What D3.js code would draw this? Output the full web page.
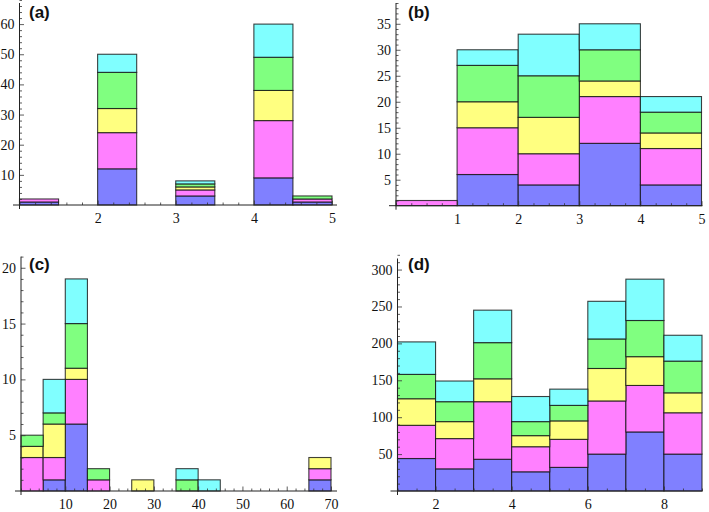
<!DOCTYPE html>
<html><head><meta charset="utf-8">
<script src="https://cdn.jsdelivr.net/npm/d3@7"></script>
<style>body{margin:0;background:#fff}svg{display:block}
svg text.tl{font-family:"Liberation Serif",Times,"DejaVu Serif",serif;font-size:14px}</style>
</head><body><svg id="chart" width="709" height="512"></svg>
<script>
// ---- data ----
const seriesKeys = ["blue", "magenta", "yellow", "green", "cyan"];
const seriesColors = ["#8080ff", "#ff80ff", "#ffff80", "#80ff80", "#80ffff"];

// (a)
const aBinStart = [1, 2, 3, 4, 4.5];
const aBinWidth = 0.5;
const aBlue    = [1, 12, 3, 9, 1];
const aMagenta = [1, 12, 2, 19, 1];
const aYellow  = [0, 8, 1, 10, 0];
const aGreen   = [0, 12, 1, 11, 1];
const aCyan    = [0, 6, 1, 11, 0];
const aXTicks = [2, 3, 4, 5];
const aYTicks = [10, 20, 30, 40, 50, 60];

// (b)
const bBinStart = [0, 1, 2, 3, 4];
const bBinWidth = 1;
const bBlue    = [0, 6, 4, 12, 4];
const bMagenta = [1, 9, 6, 9, 7];
const bYellow  = [0, 5, 7, 3, 3];
const bGreen   = [0, 7, 8, 6, 4];
const bCyan    = [0, 3, 8, 5, 3];
const bXTicks = [1, 2, 3, 4, 5];
const bYTicks = [5, 10, 15, 20, 25, 30, 35];

// (c)
const cBinStart = [0, 5, 10, 15, 25, 35, 40, 65];
const cBinWidth = 5;
const cBlue    = [0, 1, 6, 0, 0, 0, 0, 1];
const cMagenta = [3, 2, 4, 1, 0, 0, 0, 1];
const cYellow  = [1, 3, 1, 0, 1, 0, 0, 1];
const cGreen   = [1, 1, 4, 1, 0, 1, 0, 0];
const cCyan    = [0, 3, 4, 0, 0, 1, 1, 0];
const cXTicks = [10, 20, 30, 40, 50, 60, 70];
const cYTicks = [5, 10, 15, 20];

// (d)
const dBinStart = [1, 2, 3, 4, 5, 6, 7, 8];
const dBinWidth = 1;
const dBlue    = [44, 30, 43, 26, 32, 50, 80, 50];
const dMagenta = [45, 41, 78, 34, 38, 72, 63, 56];
const dYellow  = [36, 23, 31, 15, 25, 44, 39, 27];
const dGreen   = [33, 27, 49, 19, 21, 40, 49, 43];
const dCyan    = [44, 28, 44, 34, 22, 51, 56, 35];
const dXTicks = [2, 4, 6, 8];
const dYTicks = [50, 100, 150, 200, 250, 300];

const panelLabels = ["(a)", "(b)", "(c)", "(d)"];

// ---- layout / drawing ----
const svg = d3.select("#chart");

function buildRows(starts, width, series) {
  return starts.map((s, i) => {
    const r = {x0: s, x1: s + width};
    seriesKeys.forEach((k, j) => r[k] = series[j][i]);
    return r;
  });
}

const panels = [
  {label: panelLabels[0], rows: buildRows(aBinStart, aBinWidth, [aBlue, aMagenta, aYellow, aGreen, aCyan]),
   xd: [1, 5], xr: [19.5, 332], yd: [0, 67], yr: [205, 3],
   xt: aXTicks, xm: 0.2, yt: aYTicks, ym: 2, axL: 6.5, axR: 5, lab: [29, 18]},
  {label: panelLabels[1], rows: buildRows(bBinStart, bBinWidth, [bBlue, bMagenta, bYellow, bGreen, bCyan]),
   xd: [0, 5], xr: [396, 701.5], yd: [0, 39], yr: [205.7, 3],
   xt: bXTicks, xm: 0.25, yt: bYTicks, ym: 1, axL: 7, axR: 1, lab: [408, 18]},
  {label: panelLabels[2], rows: buildRows(cBinStart, cBinWidth, [cBlue, cMagenta, cYellow, cGreen, cCyan]),
   xd: [0, 70], xr: [21, 331], yd: [0, 21], yr: [491, 256.6],
   xt: cXTicks, xm: 2, yt: cYTicks, ym: 1, axL: 6, axR: 6, lab: [29, 270]},
  {label: panelLabels[3], rows: buildRows(dBinStart, dBinWidth, [dBlue, dMagenta, dYellow, dGreen, dCyan]),
   xd: [1, 9], xr: [397.5, 702], yd: [0, 315], yr: [491, 258.5],
   xt: dXTicks, xm: 0.5, yt: dYTicks, ym: 10, axL: 7, axR: 0.5, lab: [408, 270]}
];

const stack = d3.stack().keys(seriesKeys);

function range(a, b, step) {
  const out = [];
  const n = Math.round((b - a) / step);
  for (let i = 0; i <= n; i++) out.push(+(a + i * step).toFixed(6));
  return out;
}

panels.forEach(p => {
  const x = d3.scaleLinear().domain(p.xd).range(p.xr);
  const y = d3.scaleLinear().domain(p.yd).range(p.yr);
  const g = svg.append("g");

  const layers = stack(p.rows);
  layers.forEach((layer, li) => {
    g.append("g").selectAll("rect")
      .data(layer.filter(d => d[1] - d[0] > 0))
      .join("rect")
      .attr("x", d => x(d.data.x0))
      .attr("width", d => x(d.data.x1) - x(d.data.x0))
      .attr("y", d => y(d[1]))
      .attr("height", d => y(d[0]) - y(d[1]))
      .attr("fill", seriesColors[li])
      .attr("stroke", "#111")
      .attr("stroke-opacity", 0.8)
      .attr("stroke-width", 1.1);
  });

  const x0 = p.xr[0], y0 = p.yr[0];

  const xMinor = range(p.xd[0], p.xd[1], p.xm).filter(v => !p.xt.includes(v));
  const yMinor = range(p.yd[0], p.yd[1], p.ym).filter(v => !p.yt.includes(v) && v !== 0);

  const xAxisMinor = d3.axisBottom(x).tickValues(xMinor).tickSizeInner(-2.5).tickSizeOuter(0).tickFormat("");
  const yAxisMinor = d3.axisLeft(y).tickValues(yMinor).tickSizeInner(-2.5).tickSizeOuter(0).tickFormat("");
  const xAxis = d3.axisBottom(x).tickValues(p.xt).tickSizeInner(-4.5).tickSizeOuter(0).tickPadding(8).tickFormat(d3.format("d"));
  const yAxis = d3.axisLeft(y).tickValues(p.yt).tickSizeInner(-4.5).tickSizeOuter(0).tickPadding(5).tickFormat(d3.format("d"));

  [g.append("g").attr("transform", `translate(0,${y0})`).call(xAxisMinor),
   g.append("g").attr("transform", `translate(${x0},0)`).call(yAxisMinor),
   g.append("g").attr("transform", `translate(0,${y0})`).call(xAxis),
   g.append("g").attr("transform", `translate(${x0},0)`).call(yAxis)].forEach(a => {
    a.attr("font-family", null).attr("font-size", null);
    a.select(".domain").remove();
    a.selectAll("line").attr("stroke", "#333").attr("stroke-width", 0.8);
    a.selectAll("text").attr("class", "tl").attr("fill", "#111");
  });

  g.append("line").attr("x1", x0 - p.axL).attr("x2", p.xr[1] + p.axR)
    .attr("y1", y0).attr("y2", y0).attr("stroke", "#222").attr("stroke-width", 1);
  g.append("line").attr("x1", x0).attr("x2", x0)
    .attr("y1", y0 + 4).attr("y2", p.yr[1]).attr("stroke", "#222").attr("stroke-width", 1);

  g.append("text").attr("x", p.lab[0]).attr("y", p.lab[1]).text(p.label)
    .attr("font-family", "Liberation Sans, Arial, sans-serif")
    .attr("font-weight", "bold").attr("font-size", 17).attr("fill", "#111");
});
</script></body></html>
